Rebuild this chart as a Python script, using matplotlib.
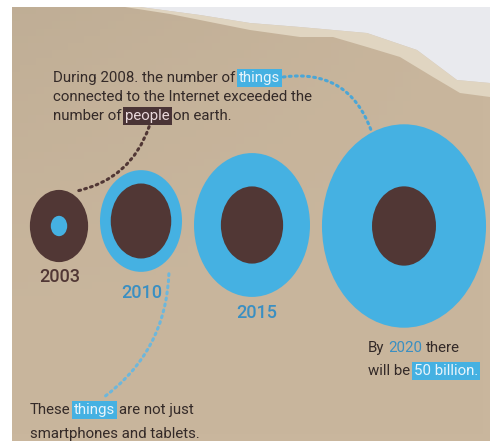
import numpy as np
import matplotlib.pyplot as plt
from matplotlib.patches import Ellipse, Polygon

# values (billions)
years = ["2003", "2010", "2015", "2020"]
people = [6.3, 6.8, 7.2, 7.6]
things = [0.5, 12.5, 25.0, 50.0]

BLUE = "#45b1e2"
BLUE_TXT = "#3a8fc2"
BROWN = "#513735"
INK = "#342a28"

plt.rcParams["font.family"] = ["Roboto", "DejaVu Sans"]

fig = plt.figure(figsize=(4.9, 4.41), dpi=100)
fig.patch.set_facecolor("white")
ax = fig.add_axes([0, 0, 1, 1])
ax.set_xlim(0, 490)
ax.set_ylim(441, 0)
ax.axis("off")

# torn paper background
ny, nx = 60, 60
gx, gy = np.meshgrid(np.linspace(0, 1, nx), np.linspace(0, 1, ny))
shade = np.clip(0.35 * (1 - gx) * (1 - gy) ** 2, 0, 1)
base = np.array([0xc9, 0xb6, 0x9d]) / 255
dark = np.array([0xae, 0x9f, 0x88]) / 255
img = base * (1 - shade[..., None]) + dark * shade[..., None]
ax.imshow(img, extent=(12, 490, 441, 7), aspect="auto", zorder=0)

tear_top = [(140, 7), (200, 15), (250, 23), (300, 27), (367, 33),
            (417, 50), (457, 80), (490, 83)]
tear_low = [(125, 7), (170, 14), (210, 22), (250, 30), (300, 37), (333, 37),
            (367, 47), (400, 57), (433, 77), (460, 93), (490, 97)]
ax.add_patch(Polygon(tear_top + tear_low[::-1], closed=True, fc="#e0d5c1", ec="none", zorder=1))
ax.add_patch(Polygon(tear_top + [(490, 7)], closed=True, fc="#e9eaee", ec="none", zorder=1))

# bubbles: area ~ value, picture is stretched vertically
k = 11.6
stretch = 1.24
cx = [59, 141, 252, 404]
cy = [226, 221, 225, 226]
for i in range(len(years)):
    rp = k * np.sqrt(people[i])
    rt = k * np.sqrt(things[i])
    big, small = (rt, rp) if things[i] > people[i] else (rp, rt)
    cb, cs = (BLUE, BROWN) if things[i] > people[i] else (BROWN, BLUE)
    ax.add_patch(Ellipse((cx[i], cy[i]), 2 * big, 2 * big * stretch, fc=cb, ec="none", zorder=2))
    ax.add_patch(Ellipse((cx[i], cy[i]), 2 * small, 2 * small * stretch, fc=cs, ec="none", zorder=3))

year_pos = [(60, 282, BROWN), (142, 298, BLUE_TXT), (257, 318, BLUE_TXT)]
for yr, (x, y, c) in zip(years[:3], year_pos):
    ax.text(x, y, yr, ha="center", va="baseline", fontsize=13, fontweight="medium", color=c, zorder=4)

renderer = fig.canvas.get_renderer()


def rich_line(x, y, parts, size=10.8):
    gap = size * 100 / 72 * 0.24
    end = x
    for s, kind in parts:
        kw = dict(color=INK)
        if kind == "blue":
            kw = dict(color="#e8f4fb", bbox=dict(boxstyle="square,pad=0.12", fc=BLUE, ec="none"))
        elif kind == "brown":
            kw = dict(color="#ead9dc", bbox=dict(boxstyle="square,pad=0.12", fc="#4a3436", ec="none"))
        elif kind == "bluetxt":
            kw = dict(color=BLUE_TXT)
        t = ax.text(x, y, s, fontsize=size, ha="left", va="baseline", zorder=5, **kw)
        end = x + t.get_window_extent(renderer=renderer).width
        x = end + gap
    return end


x_things = rich_line(53, 82, [("During 2008. the number of", None), ("things", "blue")])
rich_line(53, 101, [("connected to the Internet exceeded the", None)])
rich_line(53, 120, [("number of", None), ("people", "brown"), ("on earth.", None)])

rich_line(368, 352, [("By", None), ("2020", "bluetxt"), ("there", None)])
rich_line(368, 375, [("will be", None), ("50 billion.", "blue")])

rich_line(30, 414, [("These", None), ("things", "blue"), ("are not just", None)])
rich_line(30, 438, [("smartphones and tablets.", None)])

# dotted connectors
dots = dict(arrowstyle="-", lw=2.2, linestyle=(0, (0.6, 1.4)), capstyle="round")
ax.annotate("", xy=(cx[3] - 33, cy[3] - 96), xytext=(x_things + 3, 77),
            arrowprops=dict(color="#4ba6d6", connectionstyle="arc3,rad=-0.4",
                            shrinkA=0, shrinkB=0, **dots), zorder=4)
ax.annotate("", xy=(cx[0] + 13, cy[0] - 34), xytext=(150, 124),
            arrowprops=dict(color=BROWN, connectionstyle="arc3,rad=-0.3", **dots), zorder=4)
ax.annotate("", xy=(100, 400), xytext=(cx[1] + 28, cy[1] + 50),
            arrowprops=dict(color="#6cb7dc", connectionstyle="arc3,rad=-0.25", **dots), zorder=1.5)

fig.savefig("out.png", dpi=100)
